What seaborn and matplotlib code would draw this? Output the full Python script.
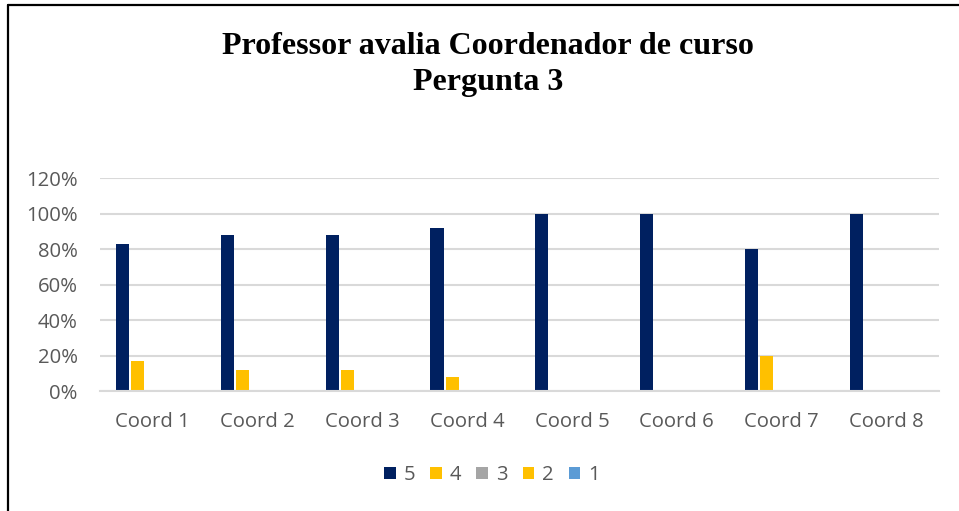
import matplotlib
matplotlib.use("Agg")
import matplotlib.pyplot as plt
from matplotlib.lines import Line2D
from matplotlib.ticker import PercentFormatter
import seaborn as sns
import pandas as pd

# Data
coords = ["Coord 1", "Coord 2", "Coord 3", "Coord 4", "Coord 5", "Coord 6", "Coord 7", "Coord 8"]
notas = ["5", "4", "3", "2", "1"]
nota5 = [0.83, 0.88, 0.88, 0.92, 1.00, 1.00, 0.80, 1.00]
nota4 = [0.17, 0.12, 0.12, 0.08, 0.00, 0.00, 0.20, 0.00]
nota3 = [0.00, 0.00, 0.00, 0.00, 0.00, 0.00, 0.00, 0.00]
nota2 = [0.00, 0.00, 0.00, 0.00, 0.00, 0.00, 0.00, 0.00]
nota1 = [0.00, 0.00, 0.00, 0.00, 0.00, 0.00, 0.00, 0.00]
colors = ["#002060", "#FFC000", "#A5A5A5", "#FFC000", "#5B9BD5"]

series = dict(zip(notas, [nota5, nota4, nota3, nota2, nota1]))
df = pd.DataFrame(
    [(c, n, series[n][i]) for n in notas for i, c in enumerate(coords)],
    columns=["coord", "nota", "valor"],
)

sns.set_theme(style="white")
plt.rcParams["font.family"] = ["Open Sans", "DejaVu Sans"]

fig = plt.figure(figsize=(9.59, 5.11), dpi=100)
ax = fig.add_axes([100 / 959, 1 - 391 / 511, 839 / 959, 213 / 511])

sns.barplot(
    data=df, x="coord", y="valor", hue="nota", hue_order=notas,
    order=coords, palette=dict(zip(notas, colors)),
    width=0.716, gap=0.13, saturation=1, errorbar=None,
    linewidth=0, ax=ax,
)

ax.set_ylim(0, 1.2)
ax.set_yticks([0, 0.2, 0.4, 0.6, 0.8, 1.0, 1.2])
ax.yaxis.set_major_formatter(PercentFormatter(1.0, decimals=0))
ax.set_xlim(-0.5, len(coords) - 0.5)
ax.set_xlabel("")
ax.set_ylabel("")
ax.grid(axis="y", color="#D9D9D9", linewidth=1.5)
ax.set_axisbelow(True)
for side in ["top", "right", "left"]:
    ax.spines[side].set_visible(False)
ax.spines["bottom"].set_color("#D9D9D9")
ax.spines["bottom"].set_linewidth(1.5)
ax.tick_params(axis="both", length=0, labelsize=14.6, colors="#595959")
ax.tick_params(axis="x", pad=15)
ax.tick_params(axis="y", pad=16)

handles, labels = ax.get_legend_handles_labels()
ax.legend_.remove()
fig.legend(
    handles, labels, loc="center", bbox_to_anchor=(0.513, 0.07),
    ncol=5, frameon=False, fontsize=14.6, labelcolor="#595959",
    handlelength=0.55, handleheight=0.55, handletextpad=0.4, columnspacing=0.75,
)

fig.suptitle(
    "Professor avalia Coordenador de curso\nPergunta 3",
    x=0.509, y=0.874, va="center", fontsize=23, fontweight="bold",
    family="Liberation Serif", color="black", linespacing=1.32,
)

# Frame along the top and left edges
fig.add_artist(Line2D([7.5 / 959, 1.0], [1 - 5.5 / 511] * 2, transform=fig.transFigure, color="black", linewidth=1.6))
fig.add_artist(Line2D([7.5 / 959] * 2, [0.0, 1 - 5.5 / 511], transform=fig.transFigure, color="black", linewidth=1.6))

fig.savefig("out.png", dpi=100, facecolor="white")
